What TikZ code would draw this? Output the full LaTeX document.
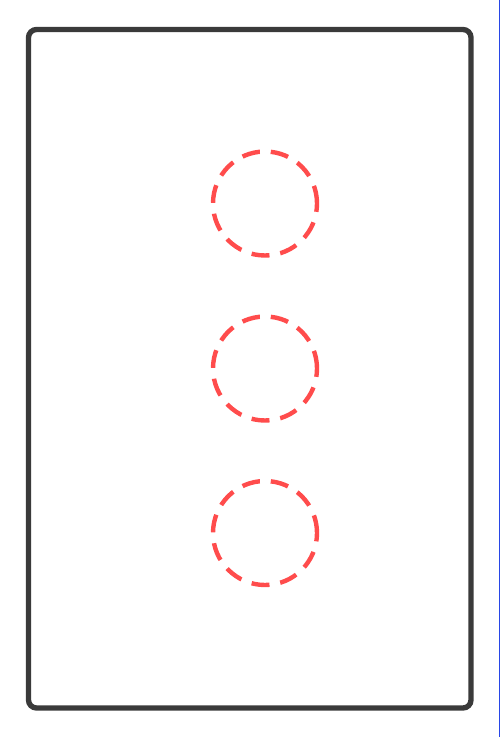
\documentclass[tikz,border=0pt]{standalone}
\usepackage{tikz}
\definecolor{framegray}{RGB}{58,58,58}
\definecolor{dashred}{RGB}{255,76,76}
\definecolor{edgeblue}{RGB}{40,70,230}
\tikzset{
  slot/.style={circle, draw=dashred, line width=3.3pt, minimum size=78pt, inner sep=0pt, dash pattern=on 13.5pt off 8.2pt}
}

\begin{document}
\begin{tikzpicture}[x=0.75pt,y=0.75pt,yscale=-1,xscale=1]
\useasboundingbox (0,0) rectangle (500,737);

%Rounded Rect
\draw [color=framegray, line width=4pt, rounded corners=6pt] (28.5,29.5) rectangle (471,708);
%Straight Lines (right edge)
\draw [color=edgeblue, line width=0.9pt] (499.5,0) -- (499.5,737);

% Circle
\node [slot] (slotA) at (265,203.5) {};
% Circle
\node [slot] (slotB) at (265,368.5) {};
% Circle
\node [slot] (slotC) at (265,533) {};

\end{tikzpicture}
\end{document}
